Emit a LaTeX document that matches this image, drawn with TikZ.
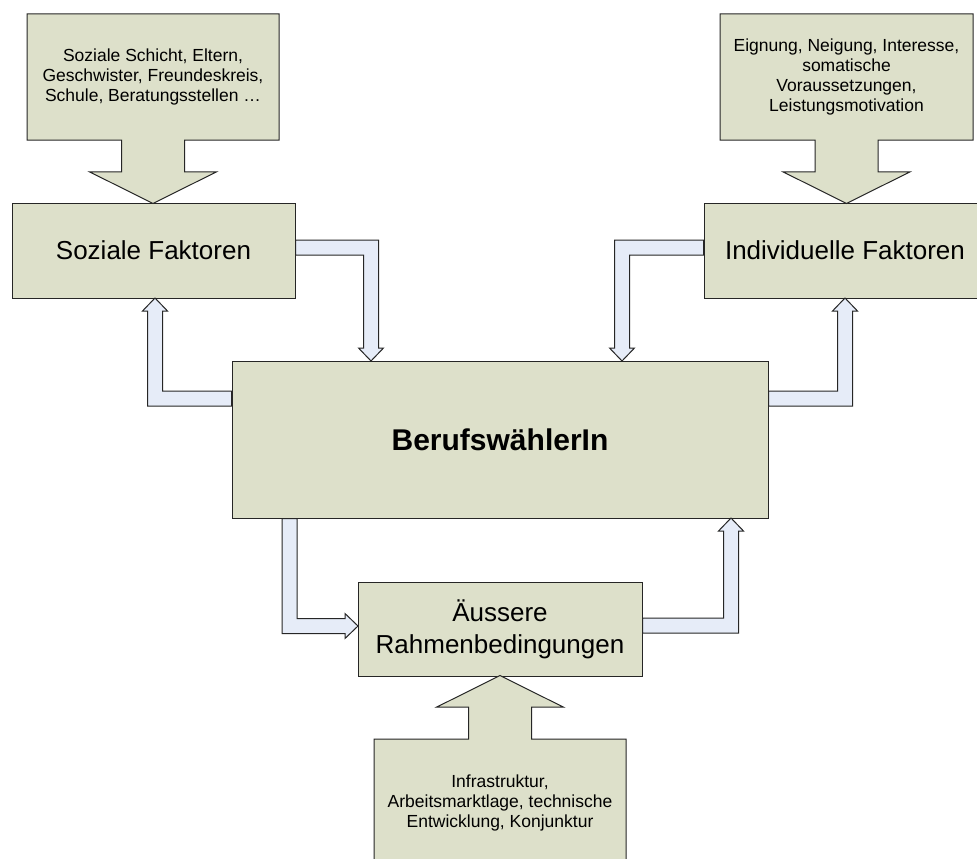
\documentclass[tikz,border=0pt]{standalone}
\usepackage{fontspec}
\setmainfont{Liberation Sans}
\usepackage{tikz}
\usetikzlibrary{shapes.arrows, calc}
\definecolor{mBoxFill}{HTML}{DDE0CA}
\definecolor{mArrowFill}{HTML}{E6ECF8}
\definecolor{mBorder}{HTML}{262626}

\begin{document}
\begin{tikzpicture}[
    x=1pt, y=-1pt,
    box/.style={rectangle, draw=mBorder, fill=mBoxFill, line width=1pt, inner sep=0pt, align=center, font=\fontsize{26}{32}\selectfont},
    callout/.style={arrow box, draw=mBorder, fill=mBoxFill, line width=1pt, inner sep=0pt, align=center, minimum width=252pt, minimum height=126pt, arrow box shaft width=63pt, arrow box head extend=32pt, arrow box tip angle=127, font=\fontsize{17.5}{20}\selectfont},
    hollow/.style={draw=mBorder, fill=mArrowFill, line width=1pt, line join=miter}
]
    \path[use as bounding box, clip] (0,0) rectangle (977,859);

    % main boxes
    \node[box, minimum width=283pt, minimum height=95pt] (soz) at (153.5,250.5) {Soziale Faktoren};
    \node[box, minimum width=282pt, minimum height=95pt] (ind) at (845,250.5) {Individuelle Faktoren};
    \node[box, minimum width=536pt, minimum height=157pt, font=\fontsize{30}{36}\selectfont\bfseries] (main) at (500,439.5) {BerufswählerIn};
    \node[box, minimum width=284pt, minimum height=94pt] (rahmen) at (500,629) {Äussere\\Rahmenbedingungen};

    % influences
    \node[callout, arrow box arrows={south:63pt}] (sozin) at (153,77)
        {Soziale Schicht, Eltern,\\Geschwister, Freundeskreis,\\Schule, Beratungsstellen …};
    \node[callout, minimum width=253pt, arrow box arrows={south:63pt}] (indin) at (846.5,77)
        {Eignung, Neigung, Interesse,\\somatische\\Voraussetzungen,\\Leistungsmotivation};
    \node[callout, minimum height=128pt, arrow box arrows={north:63pt}] (rahmenin) at (500,803)
        {Infrastruktur,\\Arbeitsmarktlage, technische\\Entwicklung, Konjunktur};

    % feedback arrows
    \filldraw[hollow] (soz.east) ++(0,-10.5) -- ++(83,0) -- ++(0,108) -- ++(5,0) -- ++(-12.5,13) -- ++(-12.5,-13) -- ++(5,0) -- ++(0,-93) -- ++(-68,0) -- cycle;
    \filldraw[hollow] (main.west) ++(0,-48.5) -- ++(-69,0) -- ++(0,-80) -- ++(5,0) -- ++(-12.5,-13) -- ++(-12.5,13) -- ++(5,0) -- ++(0,95) -- ++(84,0) -- cycle;
    \filldraw[hollow] (ind.west) ++(0,-10.5) -- ++(-89,0) -- ++(0,108) -- ++(-5,0) -- ++(12.5,13) -- ++(12.5,-13) -- ++(-5,0) -- ++(0,-93) -- ++(74,0) -- cycle;
    \filldraw[hollow] (main.east) ++(0,-48.5) -- ++(69,0) -- ++(0,-80) -- ++(-5,0) -- ++(12.5,-13) -- ++(12.5,13) -- ++(-5,0) -- ++(0,95) -- ++(-84,0) -- cycle;
    \filldraw[hollow] (main.south) ++(-218,0) -- ++(0,115) -- ++(63,0) -- ++(0,5) -- ++(13,-12.5) -- ++(-13,-12.5) -- ++(0,5) -- ++(-48,0) -- ++(0,-100) -- cycle;
    \filldraw[hollow] (rahmen.east) ++(0,-11) -- ++(81,0) -- ++(0,-87) -- ++(-5,0) -- ++(12.5,-13) -- ++(12.5,13) -- ++(-5,0) -- ++(0,102) -- ++(-96,0) -- cycle;
\end{tikzpicture}
\end{document}
